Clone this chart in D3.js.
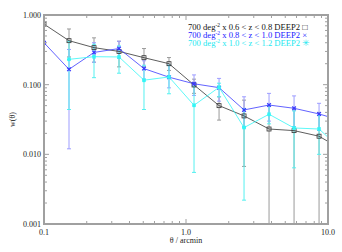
<!DOCTYPE html>
<html>
<head>
<meta charset="utf-8">
<script src="https://cdn.jsdelivr.net/npm/d3@7"></script>
<style>
  body { margin: 0; background: #fff; }
  text { font-family: "Liberation Serif", "DejaVu Serif", serif; }
</style>
</head>
<body>
<script>
// theta bins in arcmin (last one falls just outside the frame)
var theta = [0.1, 0.15, 0.225, 0.3375, 0.506, 0.759, 1.139, 1.709, 2.563, 3.844, 5.767, 8.65, 12.97];

// w(theta) per sample
var wLow  = [0.74, 0.428, 0.34, 0.30, 0.244, 0.20, 0.099, 0.050, 0.0356, 0.0231, 0.0219, 0.0182, 0.0112];
var wMid  = [0.40, 0.166, 0.29, 0.33, 0.17, 0.128, 0.103, 0.0906, 0.0434, 0.051, 0.0458, 0.038, 0.0297];
var wHigh = [null, 0.231, 0.252, 0.25, 0.116, 0.129, 0.0506, 0.0917, 0.0242, 0.0376, 0.0239, 0.0231, 0.0108];

// error bar ends (lower, upper)
var loLow  = [null, 0.25, 0.21, 0.18, 0.18, 0.16, 0.075, 0.031, 0.0067, 0.0005, 0.0005, 0.0005, null];
var hiLow  = [null, 0.63, 0.47, 0.42, 0.33, 0.245, 0.12, 0.067, 0.06, 0.05, 0.045, 0.04, null];
var loMid  = [null, 0.012, 0.21, 0.24, 0.12, 0.09, 0.07, 0.058, 0.025, 0.03, 0.025, 0.022, null];
var hiMid  = [null, 0.32, 0.40, 0.42, 0.22, 0.19, 0.138, 0.123, 0.067, 0.075, 0.069, 0.054, null];
var loHigh = [null, 0.044, 0.126, 0.146, 0.044, 0.074, 0.0055, 0.067, 0.0022, 0.0274, 0.0064, 0.010, null];
var hiHigh = [null, 0.42, 0.38, 0.36, 0.19, 0.19, 0.095, 0.105, 0.045, 0.05, 0.042, 0.036, null];

var legendLabels = ["0.6 < z < 0.8 DEEP2 \u25A1", "0.8 < z < 1.0 DEEP2 \u00D7", "1.0 < z < 1.2 DEEP2 \u2733"];
var yTickLabels = ["0.001", "0.010", "0.100", "1.000"];
var xTickLabels = ["0.1", "1.0", "10.0"];

var W = 342, H = 252;
var pLeft = 44, pRight = 328, pTop = 15, pBottom = 224;

var x = d3.scaleLog().domain([0.1, 10]).range([pLeft, pRight]);
var y = d3.scaleLog().domain([0.001, 1]).range([pBottom, pTop]);

var svg = d3.select("body").append("svg")
    .attr("width", W)
    .attr("height", H);

svg.append("clipPath").attr("id", "plotclip")
  .append("rect")
    .attr("x", pLeft).attr("y", pTop)
    .attr("width", pRight - pLeft).attr("height", pBottom - pTop);

var series = [
  {w: wLow,  lo: loLow,  hi: hiLow,  line: "#333333", err: "#9a9a9a", mark: "square"},
  {w: wMid,  lo: loMid,  hi: hiMid,  line: "#3a3aff", err: "#9d9dff", mark: "cross"},
  {w: wHigh, lo: loHigh, hi: hiHigh, line: "#33f6f6", err: "#55f0f0", mark: "star"}
];

var plot = svg.append("g").attr("clip-path", "url(#plotclip)");

// error bars first
series.forEach(function(s){
  var pts = theta.map(function(t, i){ return {t: t, lo: s.lo[i], hi: s.hi[i]}; })
    .filter(function(d){ return d.lo != null; });
  var g = plot.append("g").attr("stroke", s.err).attr("stroke-width", 1);
  g.selectAll(".eb").data(pts).enter().append("line")
    .attr("x1", function(d){ return x(d.t); })
    .attr("x2", function(d){ return x(d.t); })
    .attr("y1", function(d){ return y(d.lo); })
    .attr("y2", function(d){ return y(d.hi); });
  g.selectAll(".capHi").data(pts).enter().append("line")
    .attr("x1", function(d){ return x(d.t) - 2; })
    .attr("x2", function(d){ return x(d.t) + 2; })
    .attr("y1", function(d){ return y(d.hi); })
    .attr("y2", function(d){ return y(d.hi); });
  g.selectAll(".capLo").data(pts.filter(function(d){ return d.lo > 0.001; })).enter().append("line")
    .attr("x1", function(d){ return x(d.t) - 2; })
    .attr("x2", function(d){ return x(d.t) + 2; })
    .attr("y1", function(d){ return y(d.lo); })
    .attr("y2", function(d){ return y(d.lo); });
});

// lines and markers
series.forEach(function(s){
  var pts = theta.map(function(t, i){ return {t: t, w: s.w[i]}; })
    .filter(function(d){ return d.w != null; });
  var line = d3.line()
    .x(function(d){ return x(d.t); })
    .y(function(d){ return y(d.w); });
  plot.append("path")
    .datum(pts)
    .attr("d", line)
    .attr("fill", "none")
    .attr("stroke", s.line)
    .attr("stroke-width", 0.8);

  var m = plot.append("g").attr("stroke", s.line).attr("fill", "none").attr("stroke-width", 0.8);
  pts.forEach(function(d){
    var px = x(d.t), py = y(d.w);
    if (s.mark == "square") {
      m.append("rect").attr("x", px - 2).attr("y", py - 2).attr("width", 4).attr("height", 4);
    } else if (s.mark == "cross") {
      m.append("path").attr("d", "M" + (px-1.8) + "," + (py-1.8) + "L" + (px+1.8) + "," + (py+1.8) +
        "M" + (px-1.8) + "," + (py+1.8) + "L" + (px+1.8) + "," + (py-1.8)).attr("stroke-width", 1.3);
    } else {
      m.append("path").attr("d", "M" + (px-1.6) + "," + (py-1.6) + "L" + (px+1.6) + "," + (py+1.6) +
        "M" + (px-1.6) + "," + (py+1.6) + "L" + (px+1.6) + "," + (py-1.6) +
        "M" + px + "," + (py-2) + "L" + px + "," + (py+2) +
        "M" + (px-2) + "," + py + "L" + (px+2) + "," + py).attr("stroke-width", 1.1);
    }
  });
});

// frame and ticks
var frameColor = "#a0a0a0";
var xt = x.ticks(), yt = y.ticks();
function isMajor(v){ return Math.abs(Math.log10(v) - Math.round(Math.log10(v))) < 1e-6; }

var axes = svg.append("g").attr("stroke", frameColor).attr("stroke-width", 1);
xt.forEach(function(v){
  var len = isMajor(v) ? 5 : 3;
  axes.append("line").attr("x1", x(v)).attr("x2", x(v)).attr("y1", pBottom).attr("y2", pBottom - len);
  axes.append("line").attr("x1", x(v)).attr("x2", x(v)).attr("y1", pTop).attr("y2", pTop + len);
});
yt.forEach(function(v){
  var len = isMajor(v) ? 5 : 3;
  axes.append("line").attr("y1", y(v)).attr("y2", y(v)).attr("x1", pLeft).attr("x2", pLeft + len);
  axes.append("line").attr("y1", y(v)).attr("y2", y(v)).attr("x1", pRight).attr("x2", pRight - len);
});
svg.append("rect")
  .attr("x", pLeft).attr("y", pTop)
  .attr("width", pRight - pLeft).attr("height", pBottom - pTop)
  .attr("fill", "none").attr("stroke", frameColor).attr("stroke-width", 2);

// tick labels
var yMajors = yt.filter(isMajor);
svg.selectAll(".ylab").data(yMajors).enter().append("text")
  .attr("x", pLeft - 3)
  .attr("y", function(d){ return y(d) + 3; })
  .attr("text-anchor", "end")
  .attr("font-size", 8)
  .attr("fill", "#222")
  .text(function(d, i){ return yTickLabels[i]; });

var xMajors = xt.filter(isMajor);
svg.selectAll(".xlab").data(xMajors).enter().append("text")
  .attr("x", function(d){ return x(d); })
  .attr("y", pBottom + 11)
  .attr("text-anchor", "middle")
  .attr("font-size", 8)
  .attr("fill", "#222")
  .text(function(d, i){ return xTickLabels[i]; });

// axis titles
svg.append("text")
  .attr("x", (pLeft + pRight) / 2)
  .attr("y", pBottom + 19)
  .attr("text-anchor", "middle")
  .attr("font-size", 8)
  .attr("fill", "#222")
  .text("\u03B8 / arcmin");

svg.append("text")
  .attr("transform", "translate(15," + ((pTop + pBottom) / 2) + ") rotate(-90)")
  .attr("text-anchor", "middle")
  .attr("font-size", 8)
  .attr("fill", "#222")
  .text("w(\u03B8)");

// legend
var legColors = ["#111111", "#2020ff", "#22e8f0"];
var leg = svg.selectAll(".leg").data(legendLabels).enter().append("text")
  .attr("x", 188)
  .attr("y", function(d, i){ return 30 + i * 8; })
  .attr("font-size", 8.6)
  .attr("fill", function(d, i){ return legColors[i]; });
leg.append("tspan").text("700 deg");
leg.append("tspan").attr("dy", -3).attr("font-size", 5.5).text("-2");
leg.append("tspan").attr("dy", 3).text(function(d){ return " x " + d; });
</script>
</body>
</html>
